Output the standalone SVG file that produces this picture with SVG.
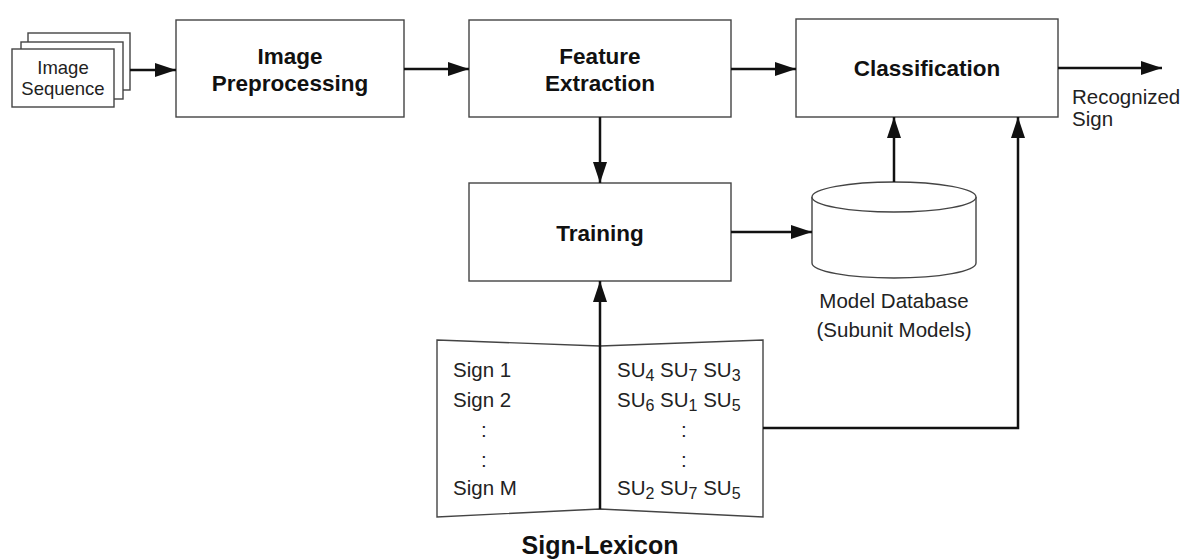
<svg xmlns="http://www.w3.org/2000/svg" width="1183" height="559" viewBox="0 0 1183 559">
<style>
.box{fill:#fff;stroke:#444;stroke-width:1.4}
.bold{font-family:"Liberation Sans",Arial,sans-serif;font-weight:bold;font-size:22.5px;fill:#111;text-anchor:middle}
.txt{font-family:"Liberation Sans",Arial,sans-serif;font-size:20.5px;fill:#222}
.small{font-family:"Liberation Sans",Arial,sans-serif;font-size:18.5px;fill:#222;text-anchor:middle}
.conn{fill:none;stroke:#111;stroke-width:2.5}
</style>
<defs>
<marker id="arr" markerUnits="userSpaceOnUse" markerWidth="21" markerHeight="14" refX="21" refY="7" orient="auto">
<path d="M0,0 L21,7 L0,14 z" fill="#111"/>
</marker>
</defs>
<rect width="1183" height="559" fill="#fff"/>

<g id="image-sequence">
<rect class="box" x="28" y="33" width="102" height="57"/>
<rect class="box" x="21" y="42" width="102" height="57"/>
<rect class="box" x="12" y="49" width="102" height="58"/>
<text class="small" x="63" y="74">Image</text>
<text class="small" x="63" y="95">Sequence</text>
</g>

<g id="image-preprocessing">
<rect class="box" x="176" y="20" width="228" height="97"/>
<text class="bold" x="290" y="64">Image</text>
<text class="bold" x="290" y="91">Preprocessing</text>
</g>

<g id="feature-extraction">
<rect class="box" x="469" y="20" width="262" height="97"/>
<text class="bold" x="600" y="64">Feature</text>
<text class="bold" x="600" y="91">Extraction</text>
</g>

<g id="classification">
<rect class="box" x="796" y="19" width="262" height="98"/>
<text class="bold" x="927" y="76">Classification</text>
</g>

<g id="recognized-sign">
<text class="txt" x="1072" y="104">Recognized</text>
<text class="txt" x="1072" y="126">Sign</text>
</g>

<g id="training">
<rect class="box" x="469" y="183" width="262" height="98"/>
<text class="bold" x="600" y="241">Training</text>
</g>

<g id="model-database">
<path class="box" d="M812,197 L812,263 A82,15 0 0 0 976,263 L976,197"/>
<ellipse class="box" cx="894" cy="197" rx="82" ry="15"/>
<text class="txt" x="894" y="308" text-anchor="middle">Model Database</text>
<text class="txt" x="894" y="337" text-anchor="middle">(Subunit Models)</text>
</g>

<g id="sign-lexicon">
<path class="box" d="M437,340 L600,346 L763,340 L763,517 L600,509 L437,517 Z"/>
<line x1="600" y1="346" x2="600" y2="509" stroke="#111" stroke-width="2.5"/>
<text class="txt" x="453" y="377">Sign 1</text>
<text class="txt" x="453" y="407">Sign 2</text>
<text class="txt" x="481" y="437">:</text>
<text class="txt" x="481" y="467">:</text>
<text class="txt" x="453" y="495">Sign M</text>
<text class="txt" x="617" y="377">SU<tspan dy="4" font-size="16">4</tspan><tspan dy="-4"> SU</tspan><tspan dy="4" font-size="16">7</tspan><tspan dy="-4"> SU</tspan><tspan dy="4" font-size="16">3</tspan></text>
<text class="txt" x="617" y="407">SU<tspan dy="4" font-size="16">6</tspan><tspan dy="-4"> SU</tspan><tspan dy="4" font-size="16">1</tspan><tspan dy="-4"> SU</tspan><tspan dy="4" font-size="16">5</tspan></text>
<text class="txt" x="681" y="437">:</text>
<text class="txt" x="681" y="467">:</text>
<text class="txt" x="617" y="495">SU<tspan dy="4" font-size="16">2</tspan><tspan dy="-4"> SU</tspan><tspan dy="4" font-size="16">7</tspan><tspan dy="-4"> SU</tspan><tspan dy="4" font-size="16">5</tspan></text>
<text class="bold" x="600" y="554" style="font-size:25px">Sign-Lexicon</text>
</g>

<g id="connectors">
<line class="conn" x1="130" y1="70" x2="176" y2="70" marker-end="url(#arr)"/>
<line class="conn" x1="404" y1="69" x2="469" y2="69" marker-end="url(#arr)"/>
<line class="conn" x1="731" y1="69" x2="796" y2="69" marker-end="url(#arr)"/>
<line class="conn" x1="1058" y1="68" x2="1162" y2="68" marker-end="url(#arr)"/>
<line class="conn" x1="600" y1="117" x2="600" y2="183" marker-end="url(#arr)"/>
<line class="conn" x1="731" y1="232" x2="812" y2="232" marker-end="url(#arr)"/>
<line class="conn" x1="894" y1="182" x2="894" y2="117" marker-end="url(#arr)"/>
<line class="conn" x1="600" y1="346" x2="600" y2="281" marker-end="url(#arr)"/>
<polyline class="conn" points="763,428 1018,428 1018,117" marker-end="url(#arr)"/>
</g>
</svg>
